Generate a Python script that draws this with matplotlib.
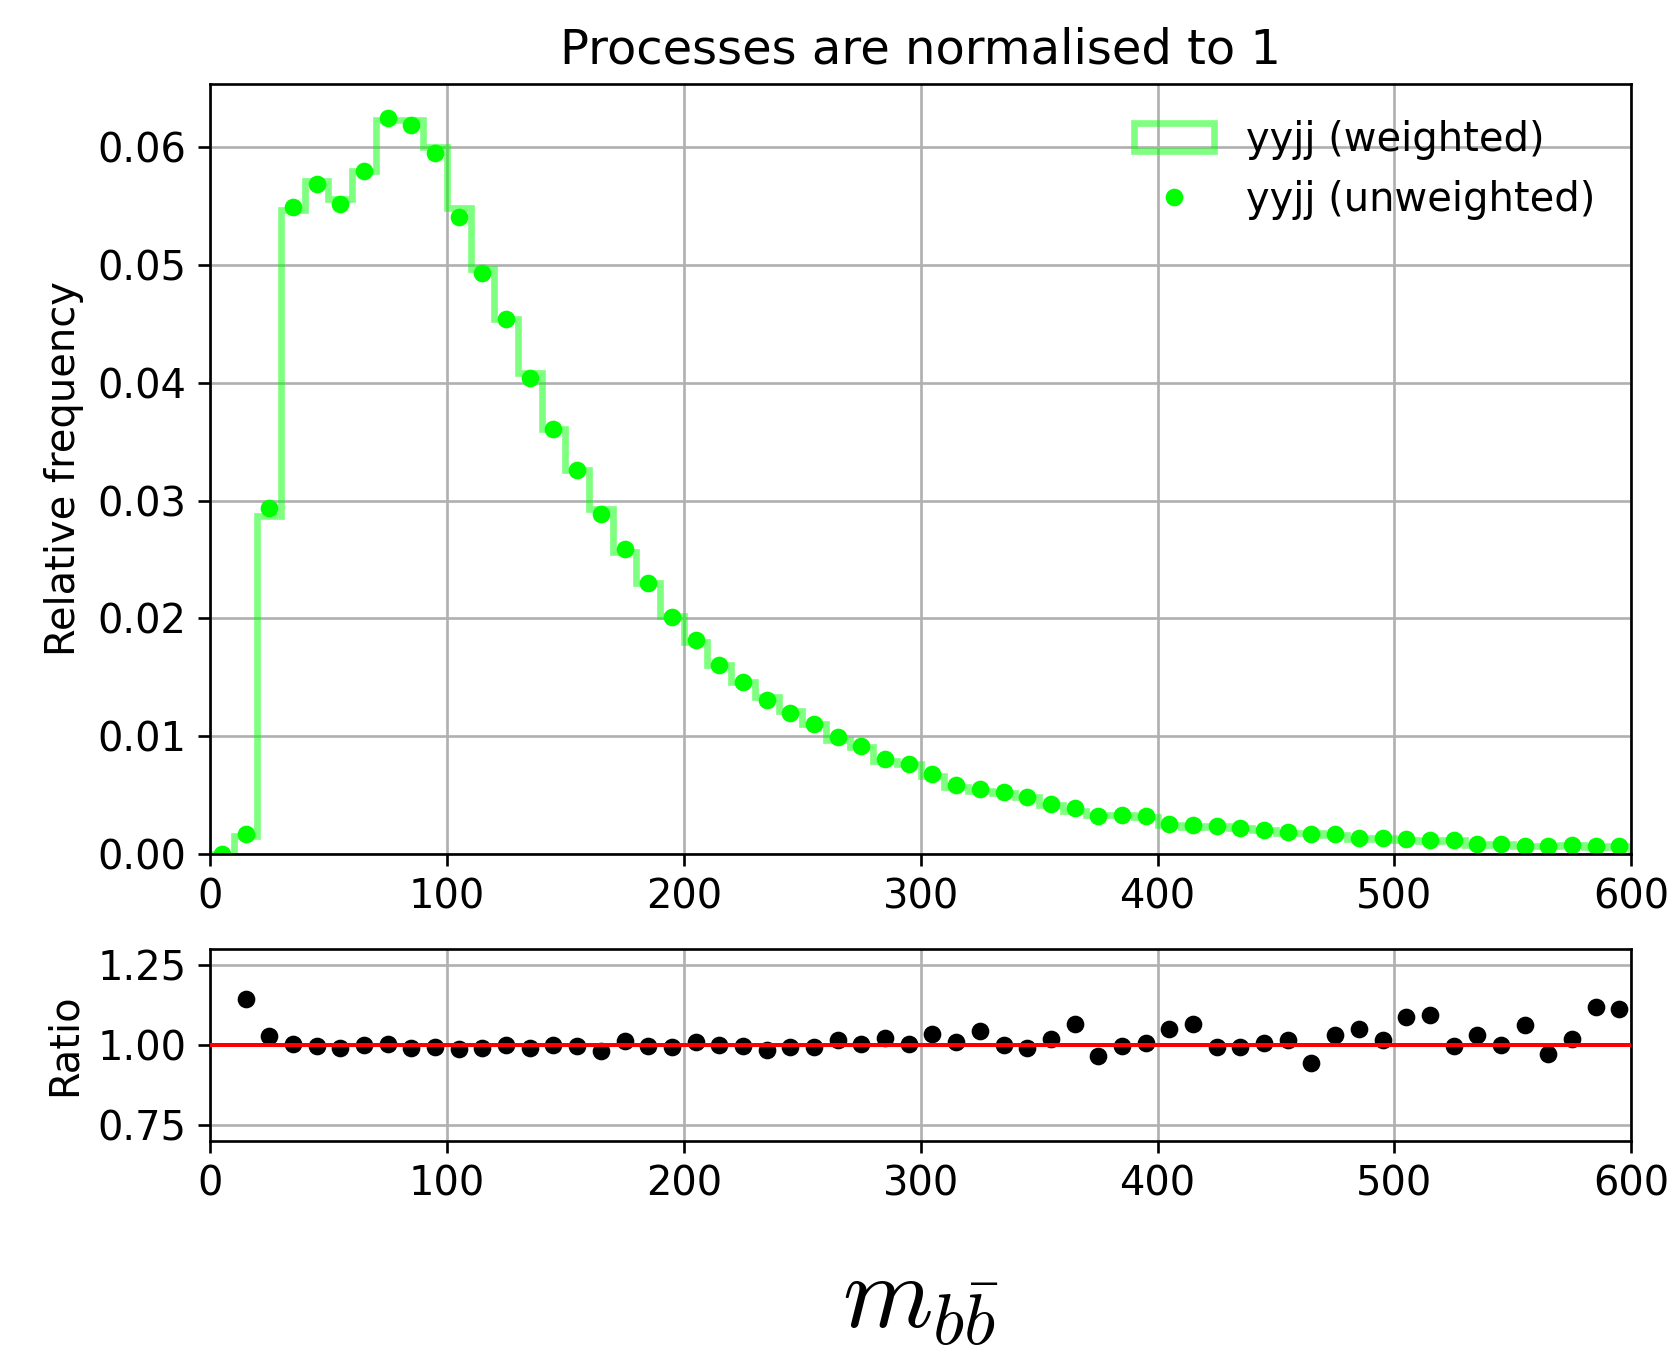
import numpy as np
import matplotlib
matplotlib.use("Agg")
import matplotlib.pyplot as plt

plt.rcParams["mathtext.fontset"] = "cm"
plt.rcParams["font.size"] = 12

# 10 GeV bins from 0 to 600
bin_edges = np.arange(0, 610, 10)
bin_centres = np.arange(5, 600, 10)

# Normalised m_bb distribution, weighted events
weighted = [
    0.0000, 0.0015, 0.0287, 0.0547, 0.0571, 0.0556, 0.0580, 0.0623, 0.0623, 0.0600,
    0.0548, 0.0497, 0.0454, 0.0408, 0.0361, 0.0326, 0.0293, 0.0256, 0.0230, 0.0202,
    0.0180, 0.0160, 0.0146, 0.0133, 0.0121, 0.0110, 0.0097, 0.0091, 0.0079, 0.0076,
    0.0066, 0.0057, 0.0053, 0.0052, 0.00485, 0.00416, 0.00362, 0.00329, 0.00331, 0.00315,
    0.00244, 0.00232, 0.00234, 0.00218, 0.00203, 0.00179, 0.00180, 0.00160, 0.00128, 0.00132,
    0.00115, 0.00109, 0.00119, 0.00079, 0.00082, 0.00064, 0.00070, 0.00076, 0.00056, 0.00064,
]

# Normalised m_bb distribution, unweighted events
unweighted = [
    0.0000, 0.0017, 0.0294, 0.0549, 0.0569, 0.0552, 0.0580, 0.0625, 0.0619, 0.0595,
    0.0541, 0.0493, 0.0454, 0.0404, 0.0361, 0.0326, 0.0289, 0.0259, 0.0230, 0.0201,
    0.0182, 0.0160, 0.0146, 0.0131, 0.0120, 0.0110, 0.00989, 0.00912, 0.00805, 0.00763,
    0.00681, 0.00582, 0.00551, 0.00523, 0.0048, 0.00423, 0.00386, 0.00318, 0.0033, 0.00318,
    0.00256, 0.00247, 0.00233, 0.00216, 0.00205, 0.00182, 0.0017, 0.00165, 0.00134, 0.00134,
    0.00125, 0.00119, 0.00119, 0.00082, 0.00082, 0.00068, 0.00068, 0.00077, 0.00063, 0.00071,
]

# Unweighted / weighted ratio per bin (first bin empty)
ratio = [
    np.nan, 1.143, 1.028, 1.002, 0.997, 0.992, 1.000, 1.005, 0.992, 0.993,
    0.987, 0.990, 1.000, 0.991, 1.000, 0.998, 0.981, 1.013, 0.997, 0.995,
    1.010, 1.000, 0.998, 0.985, 0.995, 0.995, 1.015, 1.003, 1.021, 1.005,
    1.036, 1.010, 1.043, 1.000, 0.990, 1.018, 1.066, 0.966, 0.998, 1.008,
    1.049, 1.065, 0.994, 0.993, 1.008, 1.015, 0.945, 1.033, 1.050, 1.017,
    1.087, 1.093, 0.997, 1.032, 1.000, 1.062, 0.973, 1.019, 1.119, 1.112,
]

main_yticks = [0.00, 0.01, 0.02, 0.03, 0.04, 0.05, 0.06]
ratio_yticks = [0.75, 1.00, 1.25]
xticks = [0, 100, 200, 300, 400, 500, 600]

fig = plt.figure(figsize=(7.0, 5.621), dpi=240)
ax = fig.add_axes([0.125, 0.367, 0.846, 0.571])
rax = fig.add_axes([0.125, 0.154, 0.846, 0.1425])

ax.hist(bin_centres, bins=bin_edges, weights=weighted, histtype="step",
        color="#00ff00", alpha=0.5, linewidth=2.0, label="yyjj (weighted)")
ax.plot(bin_centres, unweighted, "o", color="#00ff00", markersize=4.3,
        linestyle="none", label="yyjj (unweighted)")
ax.set_xlim(0, 600)
ax.set_ylim(0, 0.0654)
ax.set_xticks(xticks)
ax.set_yticks(main_yticks)
ax.set_yticklabels([f"{t:.2f}" for t in main_yticks])
ax.grid(True, color="#b0b0b0", linewidth=0.8)
ax.set_ylabel("Relative frequency")
ax.set_title("Processes are normalised to 1", fontsize="large")
ax.legend(loc="upper right", frameon=False)

rax.plot(bin_centres, ratio, "o", color="black", markersize=4.3, linestyle="none")
rax.axhline(1.0, color="red", linewidth=1.2, zorder=3)
rax.set_xlim(0, 600)
rax.set_ylim(0.7, 1.3)
rax.set_xticks(xticks)
rax.set_yticks(ratio_yticks)
rax.set_yticklabels([f"{t:.2f}" for t in ratio_yticks])
rax.grid(True, color="#b0b0b0", linewidth=0.8)
rax.set_ylabel("Ratio")
rax.set_xlabel(r"$m_{b\bar{b}}$", fontsize=31, labelpad=13)

fig.savefig("out.png", dpi=240)
